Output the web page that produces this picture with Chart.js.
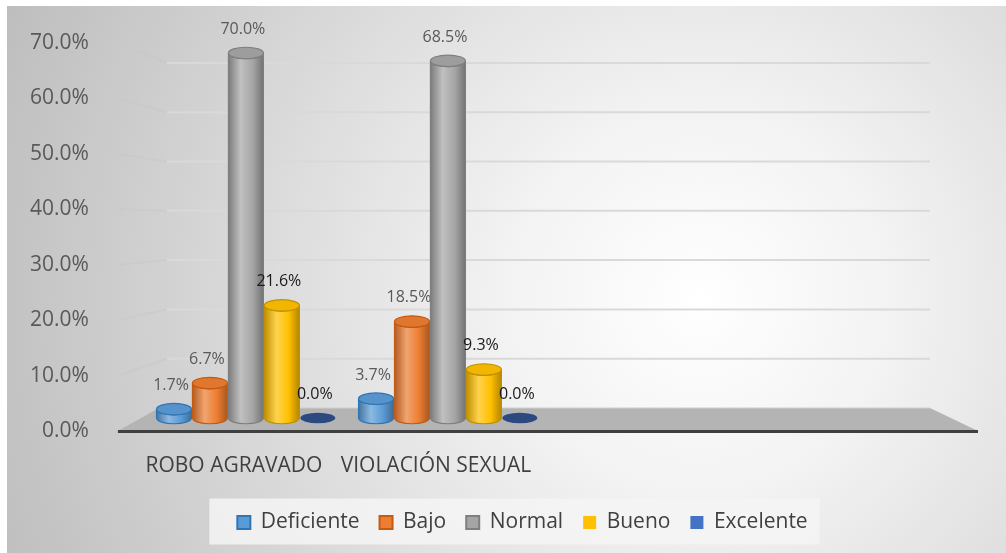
<!DOCTYPE html>
<html>
<head>
<meta charset="utf-8">
<script src="https://cdn.jsdelivr.net/npm/chart.js@4.4.1/dist/chart.umd.min.js"></script>
<style>
  html, body { margin: 0; padding: 0; background: #fff; }
  #wrap { width: 1006px; height: 553px; }
</style>
</head>
<body>
<div id="wrap"><canvas id="chart" width="1006" height="553"></canvas></div>
<script>
// categorías (las dos últimas vacías, como en el original)
const categorias = ['ROBO AGRAVADO', 'VIOLACIÓN SEXUAL', '', ''];
const deficiente = [1.7, 3.7, null, null];
const bajo = [6.7, 18.5, null, null];
const normal = [70.0, 68.5, null, null];
const bueno = [21.6, 9.3, null, null];
const excelente = [0.0, 0.0, null, null];
const ticksY = [0, 10, 20, 30, 40, 50, 60, 70];

const FONT = "'Open Sans', 'Noto Sans', sans-serif";

function hexToRgb(h) {
  const n = parseInt(h.slice(1), 16);
  return [(n >> 16) & 255, (n >> 8) & 255, n & 255];
}
function shade(h, f) {
  const c = hexToRgb(h).map(v => f >= 0 ? Math.round(v + (255 - v) * f) : Math.round(v * (1 + f)));
  return 'rgb(' + c.join(',') + ')';
}

const series = [
  { label: 'Deficiente', data: deficiente, color: '#5B9BD5', edge: '#2E75B6', text: '#595959' },
  { label: 'Bajo', data: bajo, color: '#ED7D31', edge: '#C55A11', text: '#595959' },
  { label: 'Normal', data: normal, color: '#A5A5A5', edge: '#7F7F7F', text: '#595959' },
  { label: 'Bueno', data: bueno, color: '#FFC000', edge: '#BF9000', text: '#1a1a1a', noBorder: true },
  { label: 'Excelente', data: excelente, color: '#4472C4', edge: '#2F5597', text: '#1a1a1a', noBorder: true }
];

// fondo degradado gris + caja de la leyenda
const fondo = {
  id: 'fondo',
  afterLayout(chart) {
    // la leyenda del original está algo corrida a la derecha
    chart.legend.left += 31;
    chart.legend.right += 31;
  },
  beforeDraw(chart) {
    const { ctx, width, height } = chart;
    ctx.save();
    ctx.fillStyle = '#ffffff';
    ctx.fillRect(0, 0, width, height);
    const g = ctx.createRadialGradient(700, 300, 0, 700, 300, 760);
    g.addColorStop(0, '#ffffff');
    g.addColorStop(0.25, '#f3f3f3');
    g.addColorStop(0.7, '#d2d2d2');
    g.addColorStop(1, '#bdbdbd');
    ctx.fillStyle = g;
    ctx.fillRect(7, 6, width - 7, height - 6);

    const lg = chart.legend;
    if (lg && lg.legendHitBoxes && lg.legendHitBoxes.length) {
      const hb = lg.legendHitBoxes;
      const x0 = Math.min(...hb.map(b => b.left)) - 28;
      const x1 = Math.max(...hb.map(b => b.left + b.width)) + 12;
      const yc = hb[0].top + hb[0].height / 2;
      ctx.fillStyle = 'rgba(245,245,245,0.85)';
      ctx.fillRect(x0, yc - 24, x1 - x0, 46);
    }
    ctx.restore();
  }
};

// paredes, líneas de cuadrícula y piso en falsa perspectiva
const piso = {
  id: 'piso',
  beforeDatasetsDraw(chart) {
    const { ctx, chartArea } = chart;
    const yF = chart.scales.y;
    const yB = chart.scales.yBack;
    const fl = chartArea.left - 27, fr = chartArea.right + 25;
    const bl = chartArea.left + 22, br = chartArea.right - 23;
    ctx.save();
    ctx.lineWidth = 2;
    ticksY.forEach(v => {
      if (v === 0) return;
      const fy = yF.getPixelForValue(v);
      const by = yB.getPixelForValue(v);
      ctx.strokeStyle = 'rgba(200,200,200,0.55)';
      ctx.beginPath();
      ctx.moveTo(fl, fy);
      ctx.lineTo(bl, by);
      ctx.stroke();
      ctx.strokeStyle = '#d9d9d9';
      ctx.beginPath();
      ctx.moveTo(bl, by);
      ctx.lineTo(br, by);
      ctx.stroke();
    });
    const f0 = yF.getPixelForValue(0);
    const b0 = yB.getPixelForValue(0);
    ctx.fillStyle = '#b4b4b4';
    ctx.beginPath();
    ctx.moveTo(fl, f0);
    ctx.lineTo(bl - 8, b0);
    ctx.lineTo(br, b0);
    ctx.lineTo(fr, f0);
    ctx.closePath();
    ctx.fill();
    ctx.strokeStyle = '#d0d0d0';
    ctx.lineWidth = 1;
    ctx.beginPath();
    ctx.moveTo(bl - 8, b0);
    ctx.lineTo(br, b0);
    ctx.stroke();
    ctx.strokeStyle = '#404040';
    ctx.lineWidth = 3;
    ctx.beginPath();
    ctx.moveTo(fl, f0 + 0.5);
    ctx.lineTo(fr, f0 + 0.5);
    ctx.stroke();
    ctx.restore();
  }
};

// cilindros sobre las barras y etiquetas de datos
const cilindros = {
  id: 'cilindros',
  afterDatasetsDraw(chart) {
    const { ctx } = chart;
    ctx.save();
    chart.data.datasets.forEach((ds, di) => {
      const s = series[di];
      const meta = chart.getDatasetMeta(di);
      meta.data.forEach((el, i) => {
        const v = ds.data[i];
        if (v === null || v === undefined) return;
        const x = el.x, top = el.y, base = el.base;
        const r = el.width / 2 - 0.5;
        const ry = el.width * 0.16;
        if (v > 0) {
          const g = ctx.createLinearGradient(x - r, 0, x + r, 0);
          g.addColorStop(0, shade(s.color, -0.25));
          g.addColorStop(0.35, shade(s.color, 0.3));
          g.addColorStop(0.7, s.color);
          g.addColorStop(1, shade(s.color, -0.3));
          ctx.beginPath();
          ctx.moveTo(x - r, top);
          ctx.lineTo(x - r, base);
          ctx.ellipse(x, base, r, ry, 0, Math.PI, 0, true);
          ctx.lineTo(x + r, top);
          ctx.ellipse(x, top, r, ry, 0, 0, Math.PI, false);
          ctx.closePath();
          ctx.fillStyle = g;
          ctx.fill();
          ctx.strokeStyle = s.edge;
          ctx.lineWidth = 1.2;
          ctx.stroke();
          ctx.beginPath();
          ctx.ellipse(x, top, r, ry, 0, 0, Math.PI * 2);
          ctx.fillStyle = shade(s.color, -0.05);
          ctx.fill();
          ctx.stroke();
        } else {
          ctx.beginPath();
          ctx.ellipse(x, base, r, ry * 0.9, 0, 0, Math.PI * 2);
          ctx.fillStyle = shade(s.color, -0.35);
          ctx.fill();
        }
        ctx.font = '16px ' + FONT;
        ctx.fillStyle = s.text;
        ctx.textAlign = 'center';
        ctx.textBaseline = 'bottom';
        ctx.fillText(v.toFixed(1) + '%', x - 3, top - ry - 10);
      });
    });
    ctx.restore();
  }
};

const datasets = series.map(s => ({
  label: s.label,
  data: s.data,
  yAxisID: 'yBar',
  backgroundColor: s.color,
  borderColor: s.noBorder ? s.color : s.edge,
  borderWidth: s.noBorder ? 0 : 2,
  categoryPercentage: 0.89,
  barPercentage: 1.0
}));

new Chart(document.getElementById('chart'), {
  type: 'bar',
  data: { labels: categorias, datasets },
  options: {
    responsive: false,
    animation: false,
    layout: { padding: { top: 43, left: 30, right: 53, bottom: 10 } },
    plugins: {
      legend: {
        position: 'bottom',
        labels: {
          font: { family: FONT, size: 21 },
          color: '#404040',
          boxWidth: 13,
          boxHeight: 13,
          padding: 20
        }
      },
      tooltip: { enabled: false }
    },
    scales: {
      x: {
        grid: { display: false },
        border: { display: false },
        afterFit: axis => { axis.paddingLeft = 0; axis.paddingRight = 0; axis.height = 61; },
        ticks: {
          font: { family: FONT, size: 21 },
          color: '#404040',
          padding: 14,
          labelOffset: -12,
          maxRotation: 0,
          autoSkip: false
        }
      },
      y: {
        min: 0,
        max: 70,
        afterBuildTicks: axis => { axis.ticks = ticksY.map(v => ({ value: v })); },
        afterFit: axis => {
          axis.paddingTop = 0;
          axis.paddingBottom = 0;
          axis.width -= axis.options.ticks.padding;
        },
        grid: { display: false },
        border: { display: false },
        ticks: {
          font: { family: FONT, size: 21 },
          color: '#595959',
          padding: 48,
          callback: v => v.toFixed(1) + '%'
        }
      },
      yBar: { display: false, min: -2.49, max: 71.92 },
      yBack: { display: false, min: -4.67, max: 74.05 }
    }
  },
  plugins: [fondo, piso, cilindros]
});
</script>
</body>
</html>
